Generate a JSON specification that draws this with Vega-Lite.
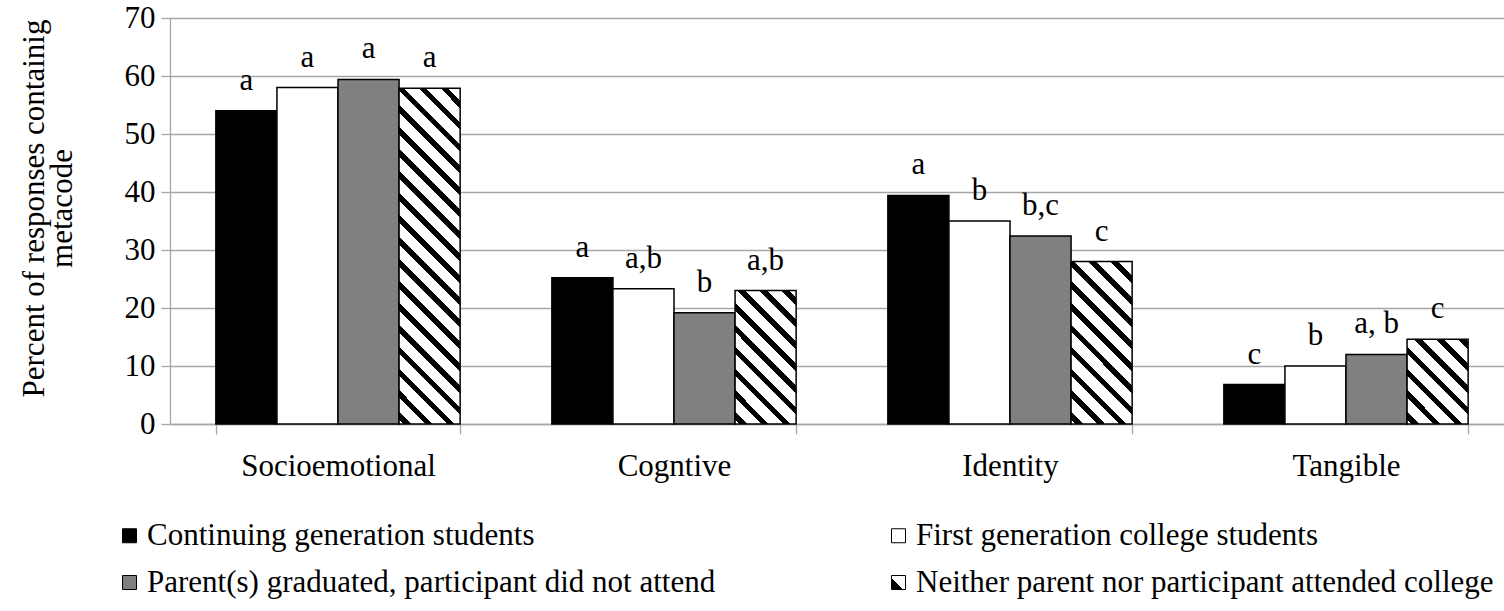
{
  "$schema": "https://vega.github.io/schema/vega-lite/v6.json",
  "width": 1334,
  "height": 406,
  "autosize": "none",
  "padding": {"left": 170, "top": 18, "right": 0, "bottom": 187},
  "background": "white",
  "config": {"view": {"stroke": null}, "font": "Liberation Serif"},
  "data": {
    "values": [
      {"cat": "Socioemotional", "group": "Continuing generation students", "value": 54.0, "label": "a"},
      {"cat": "Socioemotional", "group": "First generation college students", "value": 58.0, "label": "a"},
      {"cat": "Socioemotional", "group": "Parent(s) graduated, participant did not attend", "value": 59.4, "label": "a"},
      {"cat": "Socioemotional", "group": "Neither parent nor participant attended college", "value": 57.9, "label": "a"},
      {"cat": "Cogntive", "group": "Continuing generation students", "value": 25.2, "label": "a"},
      {"cat": "Cogntive", "group": "First generation college students", "value": 23.3, "label": "a,b"},
      {"cat": "Cogntive", "group": "Parent(s) graduated, participant did not attend", "value": 19.2, "label": "b"},
      {"cat": "Cogntive", "group": "Neither parent nor participant attended college", "value": 23.0, "label": "a,b"},
      {"cat": "Identity", "group": "Continuing generation students", "value": 39.4, "label": "a"},
      {"cat": "Identity", "group": "First generation college students", "value": 35.0, "label": "b"},
      {"cat": "Identity", "group": "Parent(s) graduated, participant did not attend", "value": 32.4, "label": "b,c"},
      {"cat": "Identity", "group": "Neither parent nor participant attended college", "value": 28.0, "label": "c"},
      {"cat": "Tangible", "group": "Continuing generation students", "value": 6.8, "label": "c"},
      {"cat": "Tangible", "group": "First generation college students", "value": 10.0, "label": "b"},
      {"cat": "Tangible", "group": "Parent(s) graduated, participant did not attend", "value": 12.0, "label": "a, b"},
      {"cat": "Tangible", "group": "Neither parent nor participant attended college", "value": 14.6, "label": "c"}
    ]
  },
  "encoding": {
    "x": {
      "field": "cat", "type": "nominal",
      "sort": ["Socioemotional", "Cogntive", "Identity", "Tangible"],
      "scale": {"range": [0, 1344], "paddingInner": 0.273, "paddingOuter": 0.1365},
      "axis": {
        "title": null, "labelAngle": 0, "tickBand": "extent", "tickSize": 10,
        "domainColor": "#a6a6a6", "tickColor": "#a6a6a6", "domainWidth": 1.3, "tickWidth": 1.3,
        "labelFontSize": 31, "labelFont": "Liberation Serif", "labelColor": "black", "labelPadding": 17, "labelLimit": 0
      }
    },
    "xOffset": {
      "field": "group", "type": "nominal",
      "sort": ["Continuing generation students", "First generation college students", "Parent(s) graduated, participant did not attend", "Neither parent nor participant attended college"],
      "scale": {"paddingInner": 0, "paddingOuter": 0}
    },
    "y": {
      "field": "value", "type": "quantitative",
      "scale": {"domain": [0, 70]},
      "axis": {
        "values": [0, 10, 20, 30, 40, 50, 60, 70],
        "grid": true, "gridColor": "#a6a6a6", "gridWidth": 1.3,
        "domainColor": "#a6a6a6", "tickColor": "#a6a6a6", "domainWidth": 1.3, "tickWidth": 1.3, "tickSize": 9,
        "labelFontSize": 31, "labelFont": "Liberation Serif", "labelColor": "black", "labelPadding": 6,
        "title": ["Percent of responses containig", "metacode"],
        "titleFontSize": 31, "titleFont": "Liberation Serif", "titleFontWeight": "normal", "titleColor": "black",
        "titleLineHeight": 28, "titlePadding": 46, "titleY": 190
      }
    }
  },
  "layer": [
    {
      "mark": {"type": "bar", "stroke": "black", "strokeWidth": 1.5, "opacity": 1},
      "encoding": {
        "fill": {
          "field": "group", "type": "nominal",
          "scale": {
            "domain": ["Continuing generation students", "Parent(s) graduated, participant did not attend", "First generation college students", "Neither parent nor participant attended college"],
            "range": ["black", "#808080", "white", {"expr": "{gradient: 'linear', x1: 0, y1: 1, x2: 1, y2: 0, stops: [{offset: 0, color: 'black'}, {offset: 0.42, color: 'black'}, {offset: 0.42, color: 'white'}, {offset: 1, color: 'white'}]}"}]
          },
          "legend": {
            "orient": "none", "legendX": -56, "legendY": 502, "columns": 2, "columnPadding": 167, "rowPadding": 15,
            "title": null, "padding": 0,
            "labelFontSize": 31, "labelFont": "Liberation Serif", "labelColor": "black", "labelLimit": 1000, "labelOffset": 2,
            "symbolType": "square", "symbolSize": 196, "symbolStrokeColor": "black", "symbolStrokeWidth": 1, "symbolOpacity": 1
          },
          "condition": [
            {"test": "datum.group === 'Neither parent nor participant attended college' && datum.cat === 'Socioemotional'",
             "value": {"gradient": "linear", "x1": 0, "y1": 1, "x2": 0.2082, "y2": -0.1441, "stops": [
              {"offset": 0, "color": "white"},
              {"offset": 0.0107, "color": "white"}, {"offset": 0.0107, "color": "black"}, {"offset": 0.0303, "color": "black"}, {"offset": 0.0303, "color": "white"},
              {"offset": 0.0659, "color": "white"}, {"offset": 0.0659, "color": "black"}, {"offset": 0.0855, "color": "black"}, {"offset": 0.0855, "color": "white"},
              {"offset": 0.1212, "color": "white"}, {"offset": 0.1212, "color": "black"}, {"offset": 0.1408, "color": "black"}, {"offset": 0.1408, "color": "white"},
              {"offset": 0.1764, "color": "white"}, {"offset": 0.1764, "color": "black"}, {"offset": 0.1960, "color": "black"}, {"offset": 0.1960, "color": "white"},
              {"offset": 0.2316, "color": "white"}, {"offset": 0.2316, "color": "black"}, {"offset": 0.2512, "color": "black"}, {"offset": 0.2512, "color": "white"},
              {"offset": 0.2869, "color": "white"}, {"offset": 0.2869, "color": "black"}, {"offset": 0.3065, "color": "black"}, {"offset": 0.3065, "color": "white"},
              {"offset": 0.3421, "color": "white"}, {"offset": 0.3421, "color": "black"}, {"offset": 0.3617, "color": "black"}, {"offset": 0.3617, "color": "white"},
              {"offset": 0.3974, "color": "white"}, {"offset": 0.3974, "color": "black"}, {"offset": 0.4170, "color": "black"}, {"offset": 0.4170, "color": "white"},
              {"offset": 0.4526, "color": "white"}, {"offset": 0.4526, "color": "black"}, {"offset": 0.4722, "color": "black"}, {"offset": 0.4722, "color": "white"},
              {"offset": 0.5078, "color": "white"}, {"offset": 0.5078, "color": "black"}, {"offset": 0.5274, "color": "black"}, {"offset": 0.5274, "color": "white"},
              {"offset": 0.5631, "color": "white"}, {"offset": 0.5631, "color": "black"}, {"offset": 0.5827, "color": "black"}, {"offset": 0.5827, "color": "white"},
              {"offset": 0.6183, "color": "white"}, {"offset": 0.6183, "color": "black"}, {"offset": 0.6379, "color": "black"}, {"offset": 0.6379, "color": "white"},
              {"offset": 0.6736, "color": "white"}, {"offset": 0.6736, "color": "black"}, {"offset": 0.6932, "color": "black"}, {"offset": 0.6932, "color": "white"},
              {"offset": 0.7288, "color": "white"}, {"offset": 0.7288, "color": "black"}, {"offset": 0.7484, "color": "black"}, {"offset": 0.7484, "color": "white"},
              {"offset": 0.7840, "color": "white"}, {"offset": 0.7840, "color": "black"}, {"offset": 0.8036, "color": "black"}, {"offset": 0.8036, "color": "white"},
              {"offset": 0.8393, "color": "white"}, {"offset": 0.8393, "color": "black"}, {"offset": 0.8589, "color": "black"}, {"offset": 0.8589, "color": "white"},
              {"offset": 0.8945, "color": "white"}, {"offset": 0.8945, "color": "black"}, {"offset": 0.9141, "color": "black"}, {"offset": 0.9141, "color": "white"},
              {"offset": 0.9497, "color": "white"}, {"offset": 0.9497, "color": "black"}, {"offset": 0.9693, "color": "black"}, {"offset": 0.9693, "color": "white"},
              {"offset": 1, "color": "white"}
             ]}},
            {"test": "datum.group === 'Neither parent nor participant attended college' && datum.cat === 'Cogntive'",
             "value": {"gradient": "linear", "x1": 0, "y1": 1, "x2": 0.552, "y2": -0.2051, "stops": [
              {"offset": 0, "color": "white"},
              {"offset": 0.0218, "color": "white"}, {"offset": 0.0218, "color": "black"}, {"offset": 0.0618, "color": "black"}, {"offset": 0.0618, "color": "white"},
              {"offset": 0.1345, "color": "white"}, {"offset": 0.1345, "color": "black"}, {"offset": 0.1745, "color": "black"}, {"offset": 0.1745, "color": "white"},
              {"offset": 0.2473, "color": "white"}, {"offset": 0.2473, "color": "black"}, {"offset": 0.2873, "color": "black"}, {"offset": 0.2873, "color": "white"},
              {"offset": 0.3600, "color": "white"}, {"offset": 0.3600, "color": "black"}, {"offset": 0.4000, "color": "black"}, {"offset": 0.4000, "color": "white"},
              {"offset": 0.4727, "color": "white"}, {"offset": 0.4727, "color": "black"}, {"offset": 0.5127, "color": "black"}, {"offset": 0.5127, "color": "white"},
              {"offset": 0.5855, "color": "white"}, {"offset": 0.5855, "color": "black"}, {"offset": 0.6255, "color": "black"}, {"offset": 0.6255, "color": "white"},
              {"offset": 0.6982, "color": "white"}, {"offset": 0.6982, "color": "black"}, {"offset": 0.7382, "color": "black"}, {"offset": 0.7382, "color": "white"},
              {"offset": 0.8109, "color": "white"}, {"offset": 0.8109, "color": "black"}, {"offset": 0.8509, "color": "black"}, {"offset": 0.8509, "color": "white"},
              {"offset": 0.9236, "color": "white"}, {"offset": 0.9236, "color": "black"}, {"offset": 0.9636, "color": "black"}, {"offset": 0.9636, "color": "white"},
              {"offset": 1, "color": "white"}
             ]}},
            {"test": "datum.group === 'Neither parent nor participant attended college' && datum.cat === 'Identity'",
             "value": {"gradient": "linear", "x1": 0, "y1": 1, "x2": 0.4536, "y2": -0.2056, "stops": [
              {"offset": 0, "color": "white"},
              {"offset": 0.0190, "color": "white"}, {"offset": 0.0190, "color": "black"}, {"offset": 0.0538, "color": "black"}, {"offset": 0.0538, "color": "white"},
              {"offset": 0.1171, "color": "white"}, {"offset": 0.1171, "color": "black"}, {"offset": 0.1519, "color": "black"}, {"offset": 0.1519, "color": "white"},
              {"offset": 0.2152, "color": "white"}, {"offset": 0.2152, "color": "black"}, {"offset": 0.2500, "color": "black"}, {"offset": 0.2500, "color": "white"},
              {"offset": 0.3133, "color": "white"}, {"offset": 0.3133, "color": "black"}, {"offset": 0.3481, "color": "black"}, {"offset": 0.3481, "color": "white"},
              {"offset": 0.4114, "color": "white"}, {"offset": 0.4114, "color": "black"}, {"offset": 0.4462, "color": "black"}, {"offset": 0.4462, "color": "white"},
              {"offset": 0.5095, "color": "white"}, {"offset": 0.5095, "color": "black"}, {"offset": 0.5443, "color": "black"}, {"offset": 0.5443, "color": "white"},
              {"offset": 0.6076, "color": "white"}, {"offset": 0.6076, "color": "black"}, {"offset": 0.6424, "color": "black"}, {"offset": 0.6424, "color": "white"},
              {"offset": 0.7057, "color": "white"}, {"offset": 0.7057, "color": "black"}, {"offset": 0.7405, "color": "black"}, {"offset": 0.7405, "color": "white"},
              {"offset": 0.8038, "color": "white"}, {"offset": 0.8038, "color": "black"}, {"offset": 0.8386, "color": "black"}, {"offset": 0.8386, "color": "white"},
              {"offset": 0.9019, "color": "white"}, {"offset": 0.9019, "color": "black"}, {"offset": 0.9367, "color": "black"}, {"offset": 0.9367, "color": "white"},
              {"offset": 1, "color": "white"}
             ]}},
            {"test": "datum.group === 'Neither parent nor participant attended college' && datum.cat === 'Tangible'",
             "value": {"gradient": "linear", "x1": 0, "y1": 1, "x2": 0.8168, "y2": -0.1323, "stops": [
              {"offset": 0, "color": "white"},
              {"offset": 0.0291, "color": "white"}, {"offset": 0.0291, "color": "black"}, {"offset": 0.0825, "color": "black"}, {"offset": 0.0825, "color": "white"},
              {"offset": 0.1795, "color": "white"}, {"offset": 0.1795, "color": "black"}, {"offset": 0.2328, "color": "black"}, {"offset": 0.2328, "color": "white"},
              {"offset": 0.3298, "color": "white"}, {"offset": 0.3298, "color": "black"}, {"offset": 0.3831, "color": "black"}, {"offset": 0.3831, "color": "white"},
              {"offset": 0.4801, "color": "white"}, {"offset": 0.4801, "color": "black"}, {"offset": 0.5335, "color": "black"}, {"offset": 0.5335, "color": "white"},
              {"offset": 0.6305, "color": "white"}, {"offset": 0.6305, "color": "black"}, {"offset": 0.6838, "color": "black"}, {"offset": 0.6838, "color": "white"},
              {"offset": 0.7808, "color": "white"}, {"offset": 0.7808, "color": "black"}, {"offset": 0.8342, "color": "black"}, {"offset": 0.8342, "color": "white"},
              {"offset": 0.9312, "color": "white"}, {"offset": 0.9312, "color": "black"}, {"offset": 0.9845, "color": "black"}, {"offset": 0.9845, "color": "white"},
              {"offset": 1, "color": "white"}
             ]}}
          ]
        }
      }
    },
    {
      "mark": {"type": "text", "baseline": "alphabetic", "dy": -21, "fontSize": 31, "font": "Liberation Serif", "color": "black"},
      "encoding": {"text": {"field": "label"}}
    }
  ]
}
